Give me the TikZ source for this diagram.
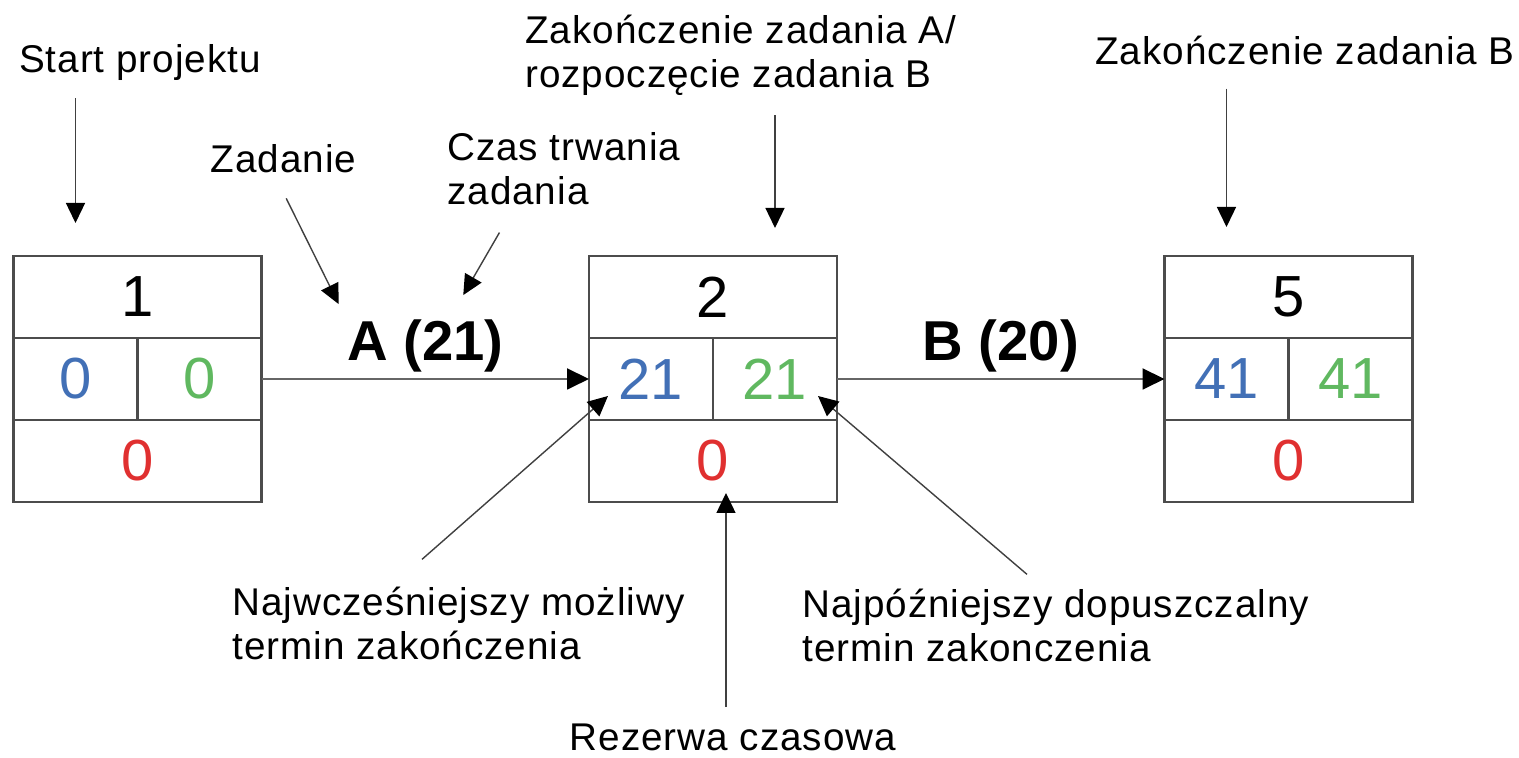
\documentclass[tikz,border=0pt]{standalone}
\usepackage{fontspec}
\setmainfont{Liberation Sans}
\newfontfamily\notefont[LetterSpace=2.5]{Liberation Sans}
\usepackage{tikz}
\usetikzlibrary{arrows.meta, positioning, calc}
\usepackage{xcolor}
\definecolor{numblue}{RGB}{66, 112, 182}
\definecolor{numgreen}{RGB}{96, 184, 96}
\definecolor{numred}{RGB}{224, 48, 48}

\begin{document}
\begin{tikzpicture}[
    cell/.style={draw=black!70, line width=1.2pt, inner sep=0pt, outer sep=0pt,
                 minimum height=1.64cm, font=\fontsize{33}{40}\selectfont},
    wide/.style={cell, minimum width=4.96cm},
    half/.style={cell, minimum width=2.48cm},
    note/.style={inner sep=0pt, align=left, font=\notefont\fontsize{22}{25.5}\selectfont},
    task/.style={inner sep=0pt, font=\fontsize{32}{38}\selectfont\bfseries},
    flow/.style={-{Triangle[length=0.44cm, width=0.42cm, color=black]},
                 draw=black!60, line width=1.1pt},
    pointer/.style={-{Triangle[length=0.4cm, width=0.38cm, color=black]},
                 draw=black!75, line width=0.8pt},
  ]
    \useasboundingbox (0,0) rectangle (30.38,15.16);

    % Events (node number / earliest / latest / slack)
    \foreach \id/\cx/\es/\lf in {1/2.75/0/0, 2/14.26/21/21, 5/25.77/41/41}{
      \node[wide] (t\id) at (\cx,9.22) {\id};
      \node[half, anchor=north west, text=numblue] (e\id) at (t\id.south west) {\es};
      \node[half, anchor=north east, text=numgreen] (l\id) at (t\id.south east) {\lf};
      \node[wide, anchor=north, text=numred] (s\id) at (t\id.south |- e\id.south) {0};
    }

    % Tasks
    \draw[flow] (l1.east) -- (e2.west)
      node[task, midway, anchor=base, yshift=0.36cm] (labA) {A (21)};
    \draw[flow] (l2.east) -- (e5.west)
      node[task, midway, anchor=base, yshift=0.36cm] (labB) {B (20)};

    % Descriptions (base = last line)
    \node[note, anchor=base] (start) at (2.8,13.7) {Start projektu};
    \node[note, anchor=base] (zad) at (5.67,11.7) {Zadanie};
    \node[note, anchor=base west] (czas) at (8.94,11.06) {Czas trwania\\zadania};
    \node[note, anchor=base west] (zakA) at (10.5,13.4)
      {Zakończenie zadania A/\\rozpoczęcie zadania B};
    \node[note, anchor=base west] (zakB) at (21.9,13.86) {Zakończenie zadania B};
    \node[note, anchor=base west] (najw) at (4.64,1.96)
      {Najwcześniejszy możliwy\\termin zakończenia};
    \node[note, anchor=base west] (najp) at (16.04,1.92)
      {Najpóźniejszy dopuszczalny\\termin zakonczenia};
    \node[note, anchor=base] (rez) at (14.66,0.14) {Rezerwa czasowa};

    % Pointers
    \draw[pointer, shorten <=0.34cm, shorten >=0.66cm] (start.south -| e1) -- (e1 |- t1.north);
    \draw[pointer, shorten <=0.38cm, shorten >=0.56cm] (zakA.south -| l2) -- (l2 |- t2.north);
    \draw[pointer, shorten <=0.46cm, shorten >=0.58cm] (zakB.south -| e5) -- (e5 |- t5.north);
    \draw[pointer, shorten <=0.55cm, shorten >=0.34cm] ([xshift=-0.19cm]zad.south) -- (labA.north west);
    \draw[pointer, shorten <=0.62cm, shorten >=0.56cm] ([xshift=1.36cm]czas.south west)
      -- ([xshift=0.48cm]labA.north);
    \draw[pointer] ([xshift=3.8cm, yshift=0.54cm]najw.north west)
      -- ([xshift=0.38cm, yshift=0.48cm]e2.south west);
    \draw[pointer] ([xshift=4.5cm, yshift=0.28cm]najp.north west)
      -- ([xshift=-0.38cm, yshift=0.48cm]l2.south east);
    \draw[pointer, shorten <=0.34cm] ([xshift=-0.14cm]rez.north)
      -- ([xshift=-0.14cm, yshift=0.18cm]rez.north |- s2.south);
  \end{tikzpicture}
\end{document}
